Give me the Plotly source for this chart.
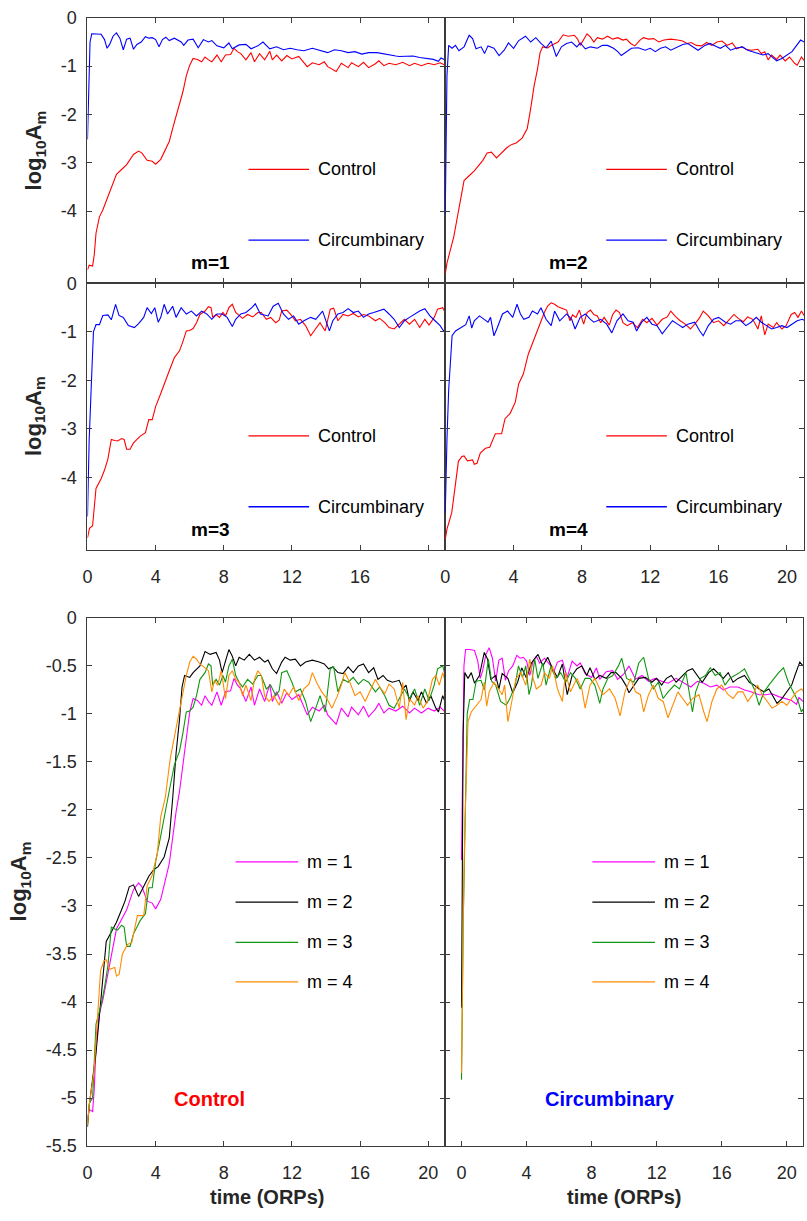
import plotly.graph_objects as go

# ---------------- data (time in ORPs, log10 A_m) ----------------
CONTROL_M1 = [
    (0, -5.22), (0.1, -5.12), (0.3, -5.14), (0.4, -4.9), (0.5, -4.46), (0.7, -4.12), (0.9, -3.98),
    (1.2, -3.71), (1.4, -3.51), (1.7, -3.24), (2.0, -3.14), (2.3, -3.04), (2.7, -2.83), (3.0, -2.76),
    (3.2, -2.8), (3.5, -2.95), (3.8, -2.97), (4.0, -3.03), (4.3, -2.93), (4.6, -2.69), (4.8, -2.56),
    (5.0, -2.29), (5.2, -2.02), (5.4, -1.81), (5.6, -1.53), (5.8, -1.2), (6.0, -0.98), (6.2, -0.84),
    (6.45, -0.86), (6.7, -0.91), (6.9, -0.81), (7.1, -0.87), (7.3, -0.91), (7.6, -0.77), (7.85, -0.91),
    (8.1, -0.77), (8.4, -0.76), (8.6, -0.63), (8.8, -0.7), (9.0, -0.74), (9.3, -0.87), (9.6, -0.72),
    (9.8, -0.91), (10.1, -0.74), (10.4, -0.87), (10.7, -0.69), (10.85, -0.87), (11.1, -0.77),
    (11.4, -0.89), (11.7, -0.78), (12.0, -0.85), (12.4, -0.8), (12.7, -0.93), (12.9, -1.01),
    (13.2, -0.93), (13.6, -0.97), (13.9, -0.91), (14.1, -1.01), (14.6, -1.11), (14.9, -0.94),
    (15.3, -1.03), (15.5, -0.93), (15.9, -1.01), (16.2, -0.92), (16.5, -1.03), (16.9, -0.95),
    (17.1, -0.89), (17.4, -0.99), (17.7, -0.94), (18.1, -0.97), (18.5, -0.92), (18.9, -0.99),
    (19.2, -0.94), (19.6, -0.99), (20.0, -0.94), (20.35, -0.97), (20.7, -0.93), (21.0, -0.98),
]
CONTROL_M2 = [
    (0, -5.3), (0.1, -5.08), (0.5, -4.53), (0.8, -3.92), (1.1, -3.37), (1.4, -3.27), (1.7, -3.17),
    (2.0, -3.04), (2.2, -2.95), (2.45, -2.8), (2.7, -2.78), (3.0, -2.9), (3.3, -2.8), (3.6, -2.69),
    (3.9, -2.62), (4.15, -2.59), (4.5, -2.49), (4.8, -2.29), (5.0, -1.88), (5.2, -1.41), (5.4, -1.06),
    (5.55, -0.72), (5.7, -0.6), (6.0, -0.62), (6.2, -0.57), (6.6, -0.5), (6.9, -0.35), (7.2, -0.38),
    (7.55, -0.36), (7.75, -0.44), (7.9, -0.57), (8.1, -0.44), (8.3, -0.33), (8.5, -0.4), (8.7, -0.5),
    (8.9, -0.41), (9.2, -0.44), (9.5, -0.38), (9.8, -0.44), (10.1, -0.41), (10.4, -0.46), (10.6, -0.44),
    (10.85, -0.53), (11.1, -0.58), (11.4, -0.46), (11.6, -0.41), (11.9, -0.44), (12.2, -0.43),
    (12.5, -0.5), (12.8, -0.46), (13.2, -0.44), (13.6, -0.46), (13.9, -0.48), (14.15, -0.53),
    (14.4, -0.51), (14.7, -0.57), (15.0, -0.58), (15.3, -0.51), (15.6, -0.57), (15.9, -0.5),
    (16.2, -0.48), (16.5, -0.57), (16.8, -0.52), (17.05, -0.64), (17.35, -0.6), (17.6, -0.65),
    (17.9, -0.67), (18.3, -0.65), (18.5, -0.74), (18.7, -0.7), (18.9, -0.87), (19.1, -0.77),
    (19.4, -0.86), (19.6, -0.77), (19.9, -0.89), (20.15, -0.81), (20.45, -0.94), (20.6, -0.98),
    (20.85, -0.81), (21.0, -0.88),
]
CONTROL_M3 = [
    (0, -5.25), (0.12, -5.05), (0.3, -5.0), (0.5, -4.23), (0.8, -4.03), (1.0, -3.85), (1.2, -3.62),
    (1.4, -3.22), (1.6, -3.24), (1.77, -3.25), (2.0, -3.2), (2.15, -3.22), (2.3, -3.42), (2.5, -3.42),
    (2.7, -3.29), (2.9, -3.22), (3.1, -3.15), (3.4, -3.08), (3.6, -2.81), (3.8, -2.81), (4.0, -2.54),
    (4.3, -2.27), (4.5, -2.07), (4.8, -1.8), (5.1, -1.53), (5.4, -1.39), (5.6, -1.2), (5.8, -0.98),
    (6.0, -0.97), (6.2, -0.93), (6.4, -0.81), (6.6, -0.64), (6.9, -0.57), (7.1, -0.48), (7.25, -0.5),
    (7.35, -0.7), (7.55, -0.64), (7.75, -0.7), (7.95, -0.6), (8.1, -0.67), (8.3, -0.5), (8.5, -0.43),
    (8.7, -0.6), (8.9, -0.67), (9.1, -0.72), (9.4, -0.64), (9.7, -0.69), (10.0, -0.6), (10.2, -0.6),
    (10.5, -0.74), (10.75, -0.7), (11.05, -0.81), (11.25, -0.76), (11.4, -0.57), (11.7, -0.55),
    (12.0, -0.67), (12.2, -0.77), (12.5, -0.74), (12.8, -0.87), (13.1, -1.08), (13.4, -0.94),
    (13.65, -0.81), (13.95, -0.98), (14.25, -0.53), (14.45, -0.51), (14.7, -0.77), (15.0, -0.64),
    (15.3, -0.67), (15.6, -0.62), (15.9, -0.69), (16.2, -0.64), (16.5, -0.67), (16.9, -0.77),
    (17.15, -0.72), (17.45, -0.81), (17.7, -0.91), (18.0, -0.94), (18.3, -0.84), (18.6, -0.74),
    (18.9, -0.84), (19.2, -0.74), (19.5, -0.91), (19.8, -0.74), (20.05, -0.86), (20.35, -0.7),
    (20.55, -0.53), (20.85, -0.5), (21.0, -0.6),
]
CONTROL_M4 = [
    (0, -5.28), (0.1, -5.07), (0.38, -4.73), (0.58, -4.12), (0.77, -3.67), (0.97, -3.57), (1.1, -3.56),
    (1.3, -3.66), (1.6, -3.64), (1.7, -3.73), (1.86, -3.71), (2.05, -3.5), (2.35, -3.4), (2.6, -3.38),
    (2.93, -3.1), (3.3, -3.1), (3.5, -2.79), (3.8, -2.68), (4.1, -2.45), (4.3, -2.07), (4.57, -1.87),
    (4.86, -1.46), (5.15, -1.19), (5.45, -0.92), (5.6, -0.78), (5.8, -0.6), (6.0, -0.46), (6.2, -0.4),
    (6.4, -0.43), (6.6, -0.48), (6.9, -0.52), (7.1, -0.55), (7.3, -0.77), (7.45, -0.65), (7.65, -0.7),
    (7.85, -0.55), (8.1, -0.84), (8.3, -0.6), (8.5, -0.55), (8.7, -0.64), (8.9, -0.67), (9.1, -0.81),
    (9.3, -0.7), (9.6, -0.86), (9.8, -0.64), (10.0, -0.55), (10.2, -0.6), (10.4, -0.81), (10.65, -0.87),
    (10.95, -0.81), (11.25, -0.91), (11.55, -0.74), (11.8, -0.81), (12.1, -0.72), (12.4, -0.86),
    (12.7, -0.74), (13.0, -0.69), (13.2, -0.57), (13.5, -0.69), (13.75, -0.77), (14.05, -0.84),
    (14.35, -0.94), (14.65, -0.82), (14.9, -0.7), (15.1, -0.57), (15.4, -0.67), (15.7, -0.81),
    (16.0, -0.77), (16.3, -0.87), (16.6, -0.76), (16.9, -0.64), (17.15, -0.72), (17.45, -0.79),
    (17.7, -0.69), (18.0, -0.74), (18.3, -0.94), (18.5, -0.67), (18.7, -1.06), (18.9, -0.84),
    (19.2, -0.91), (19.4, -0.81), (19.7, -0.94), (19.95, -0.87), (20.25, -0.64), (20.45, -0.6),
    (20.65, -0.7), (20.85, -0.57), (21.0, -0.66),
]
CIRCUM_M1 = [
    (0, -2.52), (0.08, -1.2), (0.15, -0.5), (0.25, -0.33), (0.5, -0.33), (0.8, -0.34), (1.0, -0.45),
    (1.15, -0.63), (1.3, -0.55), (1.5, -0.38), (1.7, -0.31), (1.9, -0.42), (2.1, -0.66), (2.3, -0.44),
    (2.5, -0.42), (2.7, -0.65), (2.9, -0.55), (3.15, -0.5), (3.4, -0.39), (3.6, -0.42), (3.8, -0.41),
    (4.0, -0.45), (4.2, -0.6), (4.4, -0.45), (4.6, -0.4), (4.8, -0.47), (5.1, -0.42), (5.3, -0.46),
    (5.5, -0.5), (5.65, -0.57), (5.9, -0.46), (6.2, -0.44), (6.5, -0.62), (6.8, -0.45), (7.1, -0.5),
    (7.3, -0.47), (7.6, -0.58), (8.0, -0.62), (8.3, -0.52), (8.5, -0.64), (8.9, -0.56), (9.3, -0.55),
    (9.6, -0.64), (10.0, -0.58), (10.3, -0.5), (10.7, -0.64), (11.1, -0.6), (11.5, -0.66), (11.9, -0.63),
    (12.3, -0.66), (12.7, -0.68), (13.2, -0.63), (13.6, -0.67), (14.1, -0.72), (14.5, -0.66),
    (14.9, -0.68), (15.3, -0.72), (15.7, -0.7), (16.1, -0.75), (16.5, -0.72), (17.0, -0.72),
    (17.4, -0.75), (17.8, -0.77), (18.1, -0.79), (18.3, -0.8), (18.7, -0.8), (19.1, -0.79),
    (19.5, -0.82), (19.9, -0.84), (20.3, -0.86), (20.6, -0.9), (20.75, -0.83), (21.0, -0.87),
]
CIRCUM_M2 = [
    (0, -4.06), (0.05, -2.0), (0.1, -1.2), (0.2, -0.57), (0.4, -0.63), (0.6, -0.57), (0.8, -0.68),
    (1.1, -0.6), (1.4, -0.36), (1.6, -0.43), (1.8, -0.64), (2.1, -0.6), (2.3, -0.74), (2.5, -0.58),
    (2.85, -0.63), (3.15, -0.78), (3.45, -0.67), (3.7, -0.52), (4.0, -0.63), (4.3, -0.47), (4.7, -0.38),
    (5.0, -0.5), (5.3, -0.41), (5.6, -0.53), (5.9, -0.62), (6.2, -0.48), (6.5, -0.8), (6.8, -0.6),
    (7.1, -0.53), (7.4, -0.5), (7.7, -0.6), (7.9, -0.52), (8.2, -0.64), (8.5, -0.6), (8.9, -0.63),
    (9.2, -0.57), (9.5, -0.57), (9.85, -0.63), (10.1, -0.7), (10.3, -0.78), (10.6, -0.7), (10.9, -0.63),
    (11.3, -0.62), (11.7, -0.67), (12.0, -0.63), (12.3, -0.7), (12.6, -0.63), (12.9, -0.6), (13.2, -0.67),
    (13.6, -0.6), (13.9, -0.55), (14.2, -0.53), (14.5, -0.6), (14.8, -0.67), (15.2, -0.57), (15.5, -0.53),
    (15.8, -0.58), (16.1, -0.63), (16.4, -0.57), (16.7, -0.67), (17.0, -0.63), (17.4, -0.6), (17.7, -0.67),
    (18.0, -0.7), (18.3, -0.74), (18.6, -0.77), (18.9, -0.74), (19.2, -0.84), (19.4, -0.89), (19.7, -0.84),
    (20.0, -0.77), (20.3, -0.7), (20.5, -0.6), (20.8, -0.46), (21.0, -0.5),
]
CIRCUM_M3 = [
    (0, -4.81), (0.05, -4.0), (0.1, -3.22), (0.25, -1.87), (0.35, -1.0), (0.5, -0.85), (0.7, -0.85),
    (0.9, -0.66), (1.2, -0.65), (1.4, -0.75), (1.65, -0.43), (1.85, -0.66), (2.1, -0.7), (2.4, -0.87),
    (2.75, -0.91), (3.0, -0.83), (3.3, -0.7), (3.5, -0.5), (3.75, -0.62), (3.95, -0.5), (4.15, -0.8),
    (4.3, -0.7), (4.5, -0.43), (4.7, -0.63), (5.0, -0.47), (5.2, -0.7), (5.5, -0.5), (5.8, -0.63),
    (6.1, -0.57), (6.4, -0.67), (6.7, -0.57), (7.0, -0.63), (7.3, -0.74), (7.6, -0.63), (7.9, -0.63),
    (8.2, -0.7), (8.5, -0.89), (8.7, -0.74), (9.0, -0.63), (9.3, -0.6), (9.65, -0.5), (9.85, -0.42),
    (10.15, -0.63), (10.6, -0.67), (10.9, -0.47), (11.2, -0.41), (11.5, -0.63), (11.8, -0.74),
    (12.1, -0.67), (12.4, -0.84), (12.7, -0.77), (13.1, -0.7), (13.4, -0.74), (13.8, -0.57),
    (14.2, -0.98), (14.4, -0.77), (14.7, -0.63), (15.0, -0.6), (15.3, -0.52), (15.6, -0.6),
    (15.9, -0.57), (16.2, -0.7), (16.5, -0.63), (16.8, -0.6), (17.1, -0.57), (17.4, -0.53),
    (17.7, -0.63), (18.0, -0.74), (18.3, -0.91), (18.6, -0.77), (18.9, -0.7), (19.2, -0.63),
    (19.5, -0.57), (19.8, -0.52), (20.1, -0.67), (20.4, -0.77), (20.7, -0.87), (20.9, -0.98), (21.0, -0.95),
]
CIRCUM_M4 = [
    (0, -4.74), (0.05, -3.8), (0.1, -3.22), (0.2, -2.2), (0.4, -1.08), (0.6, -0.98), (0.9, -0.91),
    (1.2, -0.85), (1.4, -0.67), (1.55, -0.92), (1.7, -0.77), (2.0, -0.67), (2.2, -0.72), (2.5, -0.8),
    (2.65, -0.7), (2.85, -1.08), (3.05, -0.91), (3.35, -0.63), (3.65, -0.57), (3.95, -0.7), (4.2, -0.43),
    (4.4, -0.63), (4.6, -0.74), (4.9, -0.7), (5.1, -0.57), (5.4, -0.63), (5.6, -0.5), (5.9, -0.74),
    (6.2, -0.87), (6.4, -0.57), (6.7, -0.77), (7.1, -0.63), (7.4, -0.74), (7.6, -0.94), (7.9, -0.7),
    (8.2, -0.63), (8.5, -0.74), (8.7, -0.8), (9.1, -0.74), (9.45, -0.84), (9.75, -1.02), (10.05, -0.77),
    (10.4, -0.63), (10.7, -0.77), (11.0, -0.8), (11.2, -0.98), (11.5, -0.8), (11.8, -0.7), (12.1, -0.84),
    (12.4, -0.87), (12.7, -1.04), (13.0, -0.91), (13.3, -0.77), (13.6, -0.84), (13.9, -0.91),
    (14.2, -0.84), (14.6, -0.8), (14.9, -0.98), (15.1, -1.08), (15.4, -0.87), (15.7, -0.74),
    (16.0, -0.7), (16.4, -0.8), (16.7, -0.84), (17.0, -0.77), (17.3, -0.77), (17.6, -0.87),
    (17.9, -0.8), (18.2, -0.7), (18.5, -0.8), (18.8, -0.87), (19.1, -0.94), (19.4, -0.91),
    (19.7, -0.87), (20.0, -0.91), (20.3, -0.84), (20.6, -0.77), (20.9, -0.74), (21.0, -0.76),
]

CONTROL = [CONTROL_M1, CONTROL_M2, CONTROL_M3, CONTROL_M4]
CIRCUM = [CIRCUM_M1, CIRCUM_M2, CIRCUM_M3, CIRCUM_M4]
MODE_LABELS = ["m = 1", "m = 2", "m = 3", "m = 4"]
PANEL_LABELS = ["m=1", "m=2", "m=3", "m=4"]
SERIES_NAMES = ["Control", "Circumbinary"]
TOP_YTICKS = [0, -1, -2, -3, -4]
TOP_YTEXT = ["0", "-1", "-2", "-3", "-4"]
BOT_YTICKS = [0, -0.5, -1, -1.5, -2, -2.5, -3, -3.5, -4, -4.5, -5, -5.5]
BOT_YTEXT = ["0", "-0.5", "-1", "-1.5", "-2", "-2.5", "-3", "-3.5", "-4", "-4.5", "-5", "-5.5"]
XTICKS = [0, 4, 8, 12, 16, 20]
XTEXT = ["0", "4", "8", "12", "16", "20"]
YTITLE = "log<sub>10</sub>A<sub>m</sub>"
XTITLE = "time (ORPs)"

# ---------------- styles ----------------
W, H = 807, 1221
FONT = "Liberation Sans, Arial, Helvetica, sans-serif"
AXC = "#3c3c3c"
TXC = "#262626"
C_CTRL, C_CIRC = "#ff0000", "#0000ff"
MODE_COLORS = ["#ff00ff", "#000000", "#129612", "#ff8c00"]


def fx(x):
    return x / W


def fy(y):
    return 1 - y / H


# panel pixel boxes (x0, x1, ytop, ybottom)
PANELS = [
    (83, 443, 8, 278), (443, 804, 8, 278),
    (83, 443, 278, 549), (443, 804, 278, 549),
    (83, 443, 618, 1155), (443, 803, 618, 1155),
]

fig = go.Figure()


def xy(series):
    return [p[0] for p in series], [p[1] for p in series]


# top four panels
for i in range(4):
    ax = "" if i == 0 else str(i + 1)
    for series, col, nm in ((CONTROL[i], C_CTRL, SERIES_NAMES[0]), (CIRCUM[i], C_CIRC, SERIES_NAMES[1])):
        t, v = xy(series)
        fig.add_trace(go.Scatter(x=t, y=v, mode="lines", name=nm, line=dict(color=col, width=1.1),
                                 xaxis="x" + ax, yaxis="y" + ax, showlegend=False))

# bottom panels
for j, group in enumerate((CONTROL, CIRCUM)):
    ax = str(5 + j)
    for k in range(4):
        t, v = xy(group[k])
        fig.add_trace(go.Scatter(x=t, y=v, mode="lines", name=MODE_LABELS[k],
                                 line=dict(color=MODE_COLORS[k], width=1.1),
                                 xaxis="x" + ax, yaxis="y" + ax, showlegend=False))

layout = dict(width=W, height=H, margin=dict(l=0, r=0, t=0, b=0),
              paper_bgcolor="white", plot_bgcolor="white", showlegend=False,
              font=dict(family=FONT, size=18, color=TXC))

base = dict(showline=True, linecolor=AXC, linewidth=1, mirror="ticks", ticks="inside",
            ticklen=5, tickcolor=AXC, tickwidth=1, showgrid=False, zeroline=False,
            tickfont=dict(family=FONT, size=18, color=TXC))


def tick_marks_only(vals):
    # tick marks without any label text
    return dict(tickvals=[], ticktext=[], showticklabels=False,
                minor=dict(tickvals=vals, ticks="inside", ticklen=5, tickcolor=AXC,
                           tickwidth=1, showgrid=False))


for i, (x0, x1, yt, yb) in enumerate(PANELS):
    n = "" if i == 0 else str(i + 1)
    xa = dict(base, domain=[fx(x0), fx(x1)], anchor="y" + n, tickvals=XTICKS, ticktext=XTEXT,
              ticklabelstandoff=10)
    ya = dict(base, domain=[fy(yb), fy(yt)], anchor="x" + n, ticklabelstandoff=6)
    if i < 4:
        xa["range"] = [0, 21]
        ya["range"] = [-5.5, 0]
        ya["tickvals"] = TOP_YTICKS
        ya["ticktext"] = TOP_YTEXT
        if i < 2:
            xa.update(tick_marks_only(XTICKS))
        if i == 2:
            xa["tickvals"] = XTICKS[:-1]
            xa["ticktext"] = XTEXT[:-1]
            xa["minor"] = dict(tickvals=XTICKS[-1:], ticks="inside", ticklen=5,
                               tickcolor=AXC, tickwidth=1, showgrid=False)
        if i % 2 == 1:
            ya.update(tick_marks_only(TOP_YTICKS))
    else:
        xa["range"] = [0, 21] if i == 4 else [-1, 21]
        ya["range"] = [-5.5, 0]
        ya["tickvals"] = BOT_YTICKS
        ya["ticktext"] = BOT_YTEXT
        if i == 5:
            ya.update(tick_marks_only(BOT_YTICKS))
    layout["xaxis" + n] = xa
    layout["yaxis" + n] = ya

fig.update_layout(**layout)

annotations = []
shapes = []


def text(x, y, s, size=18, bold=False, color=TXC, xanchor="center", angle=0):
    annotations.append(dict(x=fx(x), y=fy(y), xref="paper", yref="paper", showarrow=False,
                            text=("<b>%s</b>" % s) if bold else s, textangle=angle,
                            font=dict(family=FONT, size=size, color=color),
                            xanchor=xanchor, yanchor="middle"))


def key(x0, x1, y, color):
    shapes.append(dict(type="line", xref="paper", yref="paper", x0=fx(x0), x1=fx(x1),
                       y0=fy(y), y1=fy(y), line=dict(color=color, width=1.3)))


# axis titles
text(30, 143, YTITLE, size=22, bold=True, angle=-90)
text(30, 413, YTITLE, size=22, bold=True, angle=-90)
text(16, 886, YTITLE, size=22, bold=True, angle=-90)
text(264, 1207, XTITLE, size=20, bold=True)
text(623, 1207, XTITLE, size=20, bold=True)

# top panel labels and legends
for i in range(4):
    dx = 0 if i % 2 == 0 else 360
    dy = 0 if i < 2 else 271
    text(207 + dx, 257 + dy, PANEL_LABELS[i], size=19, bold=True, color="#000000")
    key(245 + dx, 306 + dx, 162 + dy, C_CTRL)
    text(313 + dx, 162 + dy, SERIES_NAMES[0], xanchor="left", color="#000000")
    key(245 + dx, 306 + dx, 234 + dy, C_CIRC)
    text(313 + dx, 234 + dy, SERIES_NAMES[1], xanchor="left", color="#000000")

# bottom legends
for dx in (0, 359):
    for k, yk in enumerate((866, 907, 948, 988)):
        key(232 + dx, 295 + dx, yk, MODE_COLORS[k])
        text(302 + dx, yk, MODE_LABELS[k], xanchor="left", color="#000000")

text(206, 1107, SERIES_NAMES[0], size=20, bold=True, color=C_CTRL)
text(609, 1107, SERIES_NAMES[1], size=20, bold=True, color=C_CIRC)

fig.update_layout(annotations=annotations, shapes=shapes)
fig.write_html("out.html")
